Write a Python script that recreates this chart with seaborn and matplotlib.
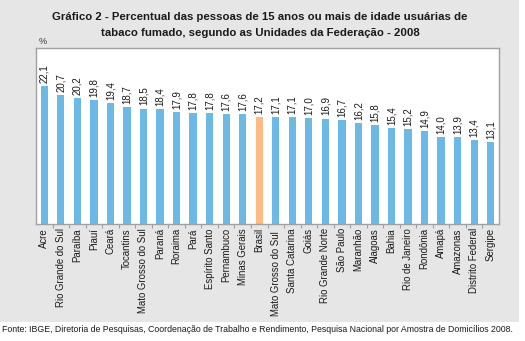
import matplotlib
matplotlib.use("Agg")
import matplotlib.pyplot as plt
import seaborn as sns
import pandas as pd
import numpy as np
from matplotlib.patches import Rectangle
from matplotlib.ticker import FixedLocator

states = ["Acre", "Rio Grande do Sul", "Paraíba", "Piauí", "Ceará", "Tocantins",
          "Mato Grosso do Sul", "Paraná", "Roraima", "Pará", "Espírito Santo",
          "Pernambuco", "Minas Gerais", "Brasil", "Mato Grosso do Sul ", "Santa Catarina",
          "Goiás", "Rio Grande Norte", "São Paulo", "Maranhão", "Alagoas", "Bahia",
          "Rio de Janeiro", "Rondônia", "Amapá", "Amazonas", "Distrito Federal", "Sergipe"]
values = [22.1, 20.7, 20.2, 19.8, 19.4, 18.7, 18.5, 18.4, 17.9, 17.8, 17.8, 17.6, 17.6,
          17.2, 17.1, 17.1, 17.0, 16.9, 16.7, 16.2, 15.8, 15.4, 15.2, 14.9, 14.0, 13.9,
          13.4, 13.1]
highlight = "Brasil"

sns.set_theme(style="white")
plt.rcParams['font.family'] = ['Liberation Sans', 'DejaVu Sans']

df = pd.DataFrame({"uf": states, "val": values})
df["grp"] = np.where(df["uf"] == highlight, "h", "n")

fig = plt.figure(figsize=(5.25, 3.41), dpi=100)
fig.patches.append(Rectangle((0, 1 - 322 / 341), 519 / 525, 322 / 341,
                             transform=fig.transFigure, facecolor="#e6e6e6",
                             edgecolor="none", zorder=-10))
ax = fig.add_axes([36 / 525, 1 - 224 / 341, 463 / 525, 176 / 341])
sns.barplot(data=df, x="uf", y="val", hue="grp", dodge=False, legend=False,
            palette={"n": "#6cb9e6", "h": "#fdba82"}, width=0.44, saturation=1,
            edgecolor="none", ax=ax)
n = len(states)
ax.set_xlim(-0.5, n - 0.5)
ax.set_ylim(0, 28.2)
ax.set_facecolor("white")
for s in ax.spines.values():
    s.set_color("#a0a0a0")
    s.set_linewidth(1.0)
ax.set_xlabel("")
ax.set_ylabel("")
ax.set_yticks([])
ax.set_xticks(range(n))
ax.set_xticklabels(states, rotation=90, fontsize=6.9, color="#1a1a1a")
ax.tick_params(axis="x", which="major", length=0, pad=3)
ax.xaxis.set_minor_locator(FixedLocator(np.arange(0.5, n - 1, 1.0)))
ax.tick_params(axis="x", which="minor", length=3, color="#a0a0a0", width=0.8, bottom=True)

for i, v in enumerate(values):
    ax.text(i, v + 0.5, f"{v:.1f}".replace(".", ","), rotation=90, ha="center",
            va="bottom", fontsize=7.0, color="#1a1a1a")

fig.text(260 / 525, 1 - 17 / 341, "Gráfico 2 - Percentual das pessoas de 15 anos ou mais de idade usuárias de",
         ha="center", va="center", fontsize=8.2, fontweight="bold", color="#1a1a1a")
fig.text(260 / 525, 1 - 33 / 341, "tabaco fumado, segundo as Unidades da Federação - 2008",
         ha="center", va="center", fontsize=8.2, fontweight="bold", color="#1a1a1a")
fig.text(43 / 525, 1 - 42 / 341, "%", ha="center", va="center", fontsize=6.5, color="#333333")
fig.text(2 / 525, 1 - 329 / 341,
         "Fonte: IBGE, Diretoria de Pesquisas, Coordenação de Trabalho e Rendimento, Pesquisa Nacional por Amostra de Domicílios 2008.",
         ha="left", va="center", fontsize=6.35, color="#1a1a1a")

fig.savefig("out.png", dpi=100)
